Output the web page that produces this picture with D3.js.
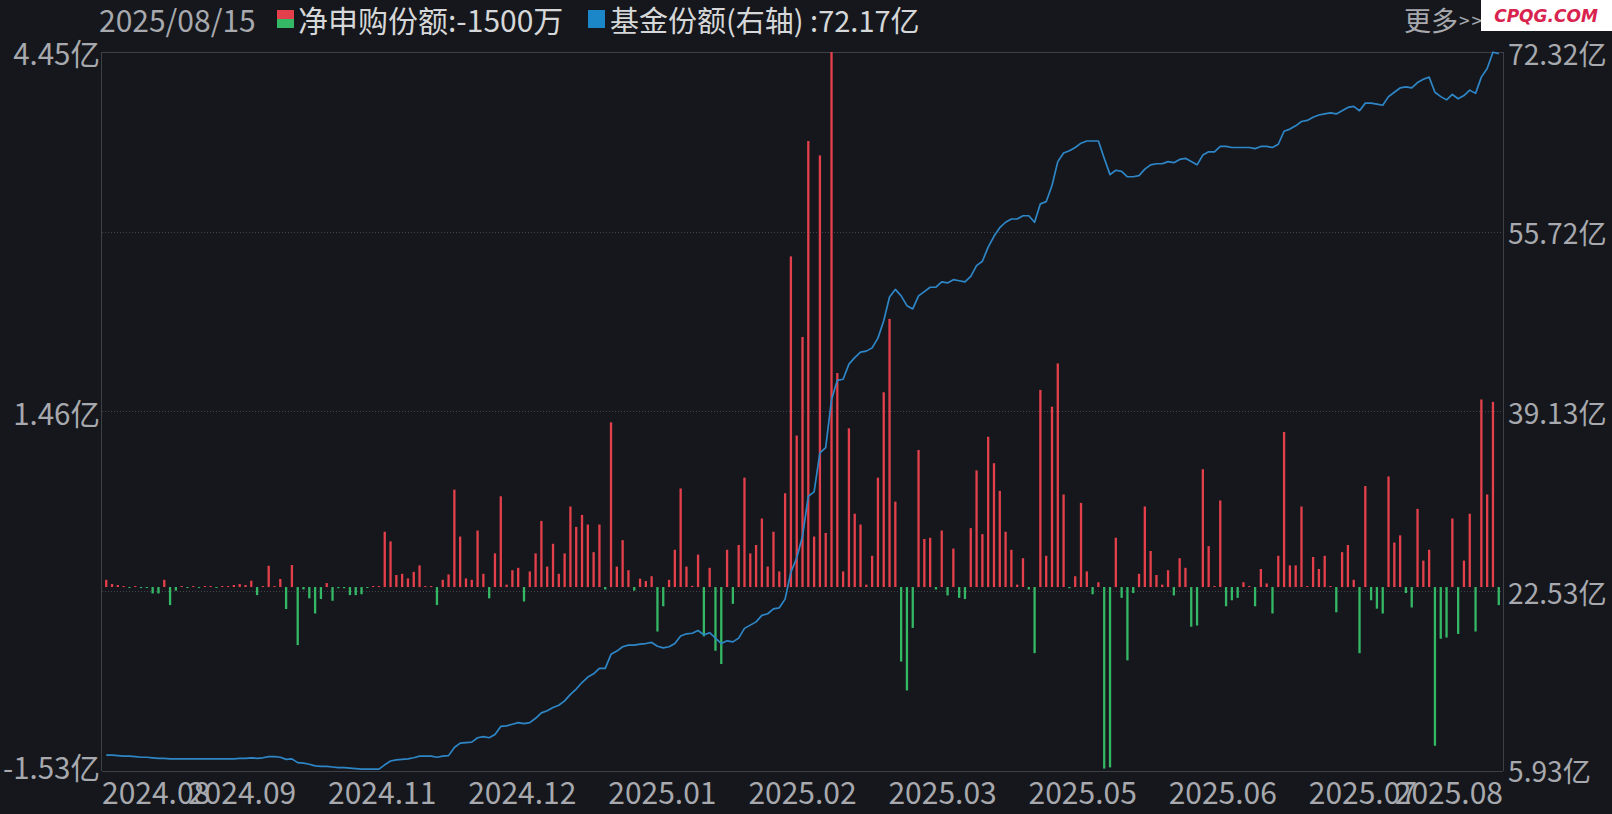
<!DOCTYPE html>
<html><head><meta charset="utf-8">
<script src="https://cdn.jsdelivr.net/npm/d3@7"></script>
<style>
html,body{margin:0;padding:0;background:#15171c;overflow:hidden;}
svg{display:block;}
</style></head><body>
<svg id="c" width="1612" height="814"></svg>
<script>
// 净申购份额 (亿) per trading day, 2024-08 .. 2025-08-15
const netSubscription = [
0.06,0.025,0.017,0.005,-0.005,0.004,-0.004,-0.005,-0.053,-0.053,
0.06,-0.15,-0.03,0.004,-0.008,0.004,-0.008,0.004,0.004,-0.004,
0.004,0.004,0.017,0.025,0.017,0.053,-0.067,0.004,0.177,0.004,
0.067,-0.183,0.183,-0.483,-0.02,-0.094,-0.22,-0.10,0.033,-0.114,
-0.01,-0.01,-0.067,-0.067,-0.06,-0.005,0.004,0.004,0.46,0.38,
0.10,0.11,0.072,0.126,0.18,0.005,0.005,-0.15,0.06,0.105,
0.81,0.42,0.072,0.06,0.47,0.11,-0.094,0.28,0.755,0.02,
0.14,0.16,-0.12,0.13,0.28,0.55,0.17,0.36,0.11,0.28,
0.67,0.50,0.60,0.52,0.29,0.52,-0.02,1.37,0.17,0.39,
0.14,-0.03,0.07,0.05,0.09,-0.37,-0.16,0.06,0.31,0.82,
0.17,0.01,0.27,-0.41,0.16,-0.53,-0.64,0.31,-0.14,0.35,
0.91,0.28,0.35,0.57,0.17,0.46,0.13,0.78,2.75,1.26,
2.08,3.71,0.42,3.59,0.45,4.45,1.78,0.13,1.32,0.61,
0.52,0.02,0.26,0.91,1.62,2.23,0.71,-0.62,-0.86,-0.34,
1.14,0.40,0.41,-0.02,0.47,-0.07,0.32,-0.09,-0.10,0.49,
0.97,0.44,1.25,1.03,0.80,0.46,0.31,0.02,0.24,-0.02,
-0.55,1.64,0.26,1.50,1.86,0.77,-0.01,0.09,0.70,0.13,
-0.06,0.04,-1.51,-1.50,0.41,-0.09,-0.61,-0.05,0.11,0.67,
0.30,0.10,0.02,0.14,-0.07,0.24,0.16,-0.33,-0.32,0.98,
0.34,0.005,0.72,-0.16,-0.11,-0.09,0.04,0.005,-0.16,0.15,
0.03,-0.22,0.26,1.29,0.18,0.18,0.67,0.005,0.25,0.15,
0.26,0.005,-0.21,0.29,0.35,0.06,-0.55,0.84,-0.11,-0.18,
-0.22,0.92,0.37,0.43,-0.05,-0.17,0.65,0.22,0.31,-1.32,
-0.43,-0.42,0.57,-0.39,0.22,0.61,-0.37,1.56,0.77,1.54,
-0.15
];
// 基金份额 (亿), right axis
const fundShares = [
7.40,7.40,7.35,7.30,7.30,7.25,7.20,7.20,7.15,7.10,
7.10,7.05,7.05,7.05,7.05,7.05,7.05,7.05,7.05,7.05,
7.05,7.05,7.05,7.10,7.10,7.15,7.10,7.15,7.25,7.25,
7.20,7.00,7.05,6.70,6.65,6.55,6.40,6.35,6.35,6.30,
6.25,6.25,6.20,6.15,6.10,6.10,6.10,6.10,6.50,6.85,
6.95,7.00,7.05,7.15,7.30,7.30,7.30,7.20,7.30,7.35,
8.10,8.50,8.55,8.60,9.00,9.10,9.00,9.30,10.05,10.10,
10.25,10.40,10.30,10.40,10.80,11.30,11.50,11.80,12.00,12.40,
13.00,13.50,14.10,14.60,14.90,15.40,15.40,16.70,17.00,17.40,
17.55,17.55,17.65,17.70,17.80,17.45,17.30,17.40,17.70,18.40,
18.60,18.65,18.90,18.50,18.70,18.20,17.70,17.95,17.85,18.20,
19.10,19.40,19.70,20.30,20.45,20.90,21.00,21.80,24.30,25.60,
27.60,31.30,31.70,35.30,35.80,40.20,42.00,42.10,43.50,44.10,
44.60,44.70,45.00,45.90,47.50,49.70,50.40,49.80,48.90,48.60,
49.80,50.20,50.60,50.60,51.10,51.00,51.30,51.20,51.10,51.60,
52.60,53.00,54.30,55.30,56.10,56.60,56.90,56.90,57.20,57.20,
56.60,58.30,58.50,60.00,62.20,63.00,63.20,63.50,63.90,64.10,
64.10,64.10,62.50,61.00,61.40,61.30,60.80,60.80,60.90,61.50,
61.90,62.00,62.00,62.20,62.10,62.40,62.50,62.20,61.90,62.80,
63.10,63.10,63.60,63.60,63.50,63.50,63.50,63.50,63.40,63.60,
63.60,63.50,63.80,65.00,65.20,65.50,65.90,66.00,66.30,66.50,
66.60,66.70,66.60,66.90,67.20,67.30,66.90,67.60,67.60,67.50,
67.40,68.20,68.60,69.00,69.10,69.00,69.50,69.80,70.00,68.60,
68.20,67.90,68.40,68.00,68.30,68.80,68.50,70.00,70.80,72.30,
72.17
];
const xTickLabels = ["2024.08","2024.09","2024.11","2024.12","2025.01","2025.02","2025.03","2025.05","2025.06","2025.07","2025.08"];
const leftTickValues = [4.45, 1.46, -1.53];
const leftTickLabels = ["4.45亿","1.46亿","-1.53亿"];
const rightTickValues = [72.32, 55.72, 39.13, 22.53, 5.93];
const rightTickLabels = ["72.32亿","55.72亿","39.13亿","22.53亿","5.93亿"];
const headerDate = "2025/08/15";
const legendNet = "净申购份额:-1500万";
const legendShare = "基金份额(右轴) :72.17亿";
const moreText = ["更多", ">>"];
const watermark = "CPQG.COM";

const W = 1612, H = 814;
const plot = {left: 102, right: 1503, top: 52, bottom: 771};
const FONT = "'Noto Sans CJK SC','Noto Sans',sans-serif";
const C = {bg:"#15171c", frame:"#3d4047", grid:"#41444b", text:"#a7a9ae", legendText:"#d6d7d9",
           red:"#e4404b", green:"#35b865", blue:"#2e86c6"};

const svg = d3.select("#c");
svg.append("rect").attr("width",W).attr("height",H).attr("fill",C.bg);

const N = netSubscription.length;
const x = d3.scalePoint().domain(d3.range(N)).range([plot.left, plot.right]).padding(0.73);
const yL = d3.scaleLinear().domain([-1.53, 4.45]).range([plot.bottom, plot.top]);
const yR = d3.scaleLinear().domain([5.93, 72.32]).range([plot.bottom, plot.top]);
const tickX = d3.scaleLinear().domain([0, xTickLabels.length-1]).range([plot.left, plot.right]);

// grid lines (from right axis ticks)
const g = svg.append("g");
rightTickValues.forEach((v,k) => {
  const y = Math.round(yR(v)) + 0.5;
  const solid = (k===0 || k===rightTickValues.length-1);
  g.append("line").attr("x1",plot.left).attr("x2",plot.right).attr("y1",y).attr("y2",y)
    .attr("stroke", solid ? C.frame : C.grid).attr("stroke-width",1)
    .attr("stroke-dasharray", solid ? null : "1,2");
});
g.append("line").attr("x1",plot.left-0.5).attr("x2",plot.left-0.5).attr("y1",plot.top).attr("y2",plot.bottom).attr("stroke",C.frame);
g.append("line").attr("x1",plot.right+0.5).attr("x2",plot.right+0.5).attr("y1",plot.top).attr("y2",plot.bottom).attr("stroke",C.frame);

// bars
const y0 = yL(0);
svg.append("g").selectAll("rect").data(netSubscription).join("rect")
  .attr("x",(d,i)=>x(i)-1.15).attr("width",2.3)
  .attr("y",d=> d>=0 ? Math.min(yL(d), y0-1) : y0)
  .attr("height",d=> Math.max(1, Math.abs(yL(d)-y0)))
  .attr("fill",d=> d>=0 ? C.red : C.green);

// line
svg.append("path").datum(fundShares)
  .attr("d", d3.line().x((d,i)=>x(i)).y(d=>yR(d)))
  .attr("fill","none").attr("stroke",C.blue).attr("stroke-width",1.7).attr("stroke-linejoin","round");

// left labels
svg.append("g").selectAll("text").data(leftTickValues).join("text")
  .attr("x", plot.left-2)
  .attr("y", (d,i)=> i===leftTickValues.length-1 ? yL(d)-5 : yL(d))
  .attr("text-anchor","end").attr("dominant-baseline","central")
  .attr("font-family",FONT).attr("font-size",29.5).attr("fill",C.text)
  .text((d,i)=>leftTickLabels[i]);

// right labels
svg.append("g").selectAll("text").data(rightTickValues).join("text")
  .attr("x", plot.right+5)
  .attr("y", (d,i)=> i===rightTickValues.length-1 ? yR(d)-2 : yR(d))
  .attr("text-anchor","start").attr("dominant-baseline","central")
  .attr("font-family",FONT).attr("font-size",28.2).attr("fill",C.text)
  .text((d,i)=>rightTickLabels[i]);

// x tick labels
svg.append("g").selectAll("text").data(xTickLabels).join("text")
  .attr("x",(d,i)=>tickX(i))
  .attr("y", 791)
  .attr("text-anchor",(d,i)=> i===0 ? "start" : (i===xTickLabels.length-1 ? "end" : "middle"))
  .attr("dominant-baseline","central")
  .attr("font-family",FONT).attr("font-size",30).attr("fill",C.text)
  .text(d=>d);

// header
const hy = 19;
svg.append("text").attr("x",99).attr("y",hy).attr("dominant-baseline","central")
  .attr("font-family",FONT).attr("font-size",30).attr("fill",C.text).text(headerDate);
svg.append("rect").attr("x",277).attr("y",10).attr("width",17).attr("height",9).attr("fill",C.red);
svg.append("rect").attr("x",277).attr("y",19).attr("width",17).attr("height",9).attr("fill",C.green);
svg.append("text").attr("x",298).attr("y",hy).attr("dominant-baseline","central")
  .attr("font-family",FONT).attr("font-size",30).attr("fill",C.legendText).text(legendNet);
svg.append("rect").attr("x",588).attr("y",10).attr("width",17).attr("height",18).attr("fill","#1b87c9");
svg.append("text").attr("x",610).attr("y",hy).attr("dominant-baseline","central")
  .attr("font-family",FONT).attr("font-size",29).attr("fill",C.legendText).text(legendShare);
const more = svg.append("text").attr("x",1404).attr("y",hy).attr("dominant-baseline","central")
  .attr("font-family",FONT).attr("fill",C.text);
more.append("tspan").attr("font-size",27).text(moreText[0]);
more.append("tspan").attr("font-size",19).attr("letter-spacing",2).attr("dx",1).text(moreText[1]);

// watermark
svg.append("rect").attr("x",1481).attr("y",0).attr("width",131).attr("height",31).attr("fill","#ffffff");
svg.append("text").attr("x",1546).attr("y",16).attr("text-anchor","middle").attr("dominant-baseline","central")
  .attr("font-family","'DejaVu Sans',sans-serif").attr("font-style","italic").attr("font-weight","bold")
  .attr("font-size",17).attr("fill","#d8234e").text(watermark);
</script>
</body></html>
